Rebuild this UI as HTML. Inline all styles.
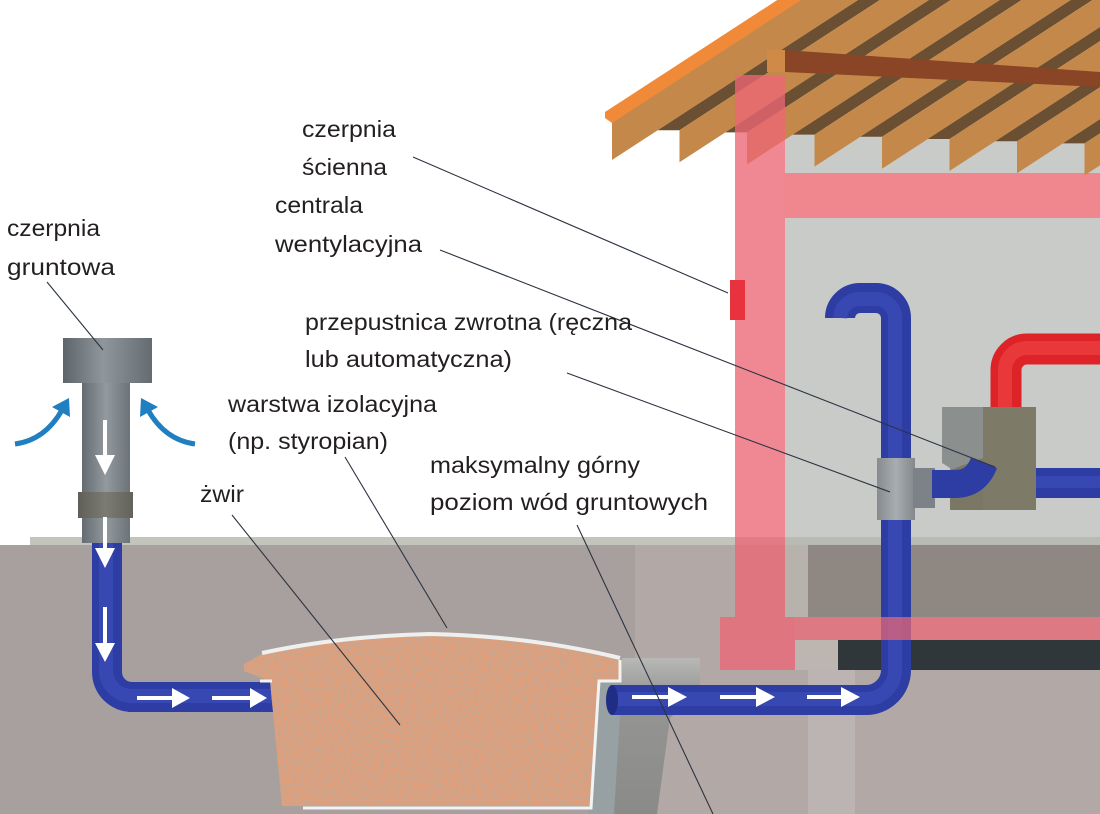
<!DOCTYPE html>
<html><head><meta charset="utf-8">
<style>html,body{margin:0;padding:0;background:#fff;}svg{display:block}</style>
</head><body>
<svg width="1100" height="814" viewBox="0 0 1100 814" xmlns="http://www.w3.org/2000/svg">
<defs>
 <linearGradient id="capg" x1="0" x2="1" y1="0" y2="0">
  <stop offset="0" stop-color="#5d656b"/><stop offset="0.45" stop-color="#8f979c"/><stop offset="1" stop-color="#646c72"/>
 </linearGradient>
 <linearGradient id="stemg" x1="0" x2="1" y1="0" y2="0">
  <stop offset="0" stop-color="#646c72"/><stop offset="0.5" stop-color="#939a9f"/><stop offset="1" stop-color="#6b7378"/>
 </linearGradient>
 <linearGradient id="bandg" x1="0" x2="1" y1="0" y2="0">
  <stop offset="0" stop-color="#5f5e58"/><stop offset="0.5" stop-color="#7c7b73"/><stop offset="1" stop-color="#63625b"/>
 </linearGradient>
 <linearGradient id="teeg" x1="0" x2="1" y1="0" y2="0">
  <stop offset="0" stop-color="#868b8f"/><stop offset="0.5" stop-color="#a9adb0"/><stop offset="1" stop-color="#83888c"/>
 </linearGradient>
 <linearGradient id="blockg" x1="0" x2="0" y1="0" y2="1">
  <stop offset="0" stop-color="#b8b9b6"/><stop offset="0.25" stop-color="#959693"/><stop offset="1" stop-color="#8a8b89"/>
 </linearGradient>
 <filter id="gr" x="0" y="0" width="1" height="1">
  <feTurbulence type="fractalNoise" baseFrequency="0.32" numOctaves="2" seed="4" result="t"/>
  <feColorMatrix in="t" type="matrix" values="0 0 0 0 0.76  0 0 0 0 0.34  0 0 0 0 0.19  0 0 0 -6 3.6" result="c"/>
  <feComposite in="c" in2="SourceGraphic" operator="in"/>
 </filter>
</defs>

<rect width="1100" height="814" fill="#fff"/>

<!-- soil -->
<rect x="0" y="545" width="1100" height="269" fill="#a8a09e"/>
<rect x="635" y="545" width="465" height="269" fill="#b2a9a7"/>
<rect x="808" y="670" width="47" height="144" fill="#bbb4b2"/>
<rect x="30" y="537" width="1070" height="8" fill="#c3c5bd"/>

<!-- interior -->
<rect x="785" y="128" width="315" height="409" fill="#c9cbc9"/>
<rect x="785" y="537" width="315" height="8" fill="#b9bab3"/>
<rect x="785" y="545" width="315" height="72" fill="#8e8782"/>
<rect x="785" y="545" width="23" height="72" fill="#b8b2ad"/>
<rect x="795" y="640" width="43" height="30" fill="#bcb5b0"/>
<rect x="838" y="640" width="262" height="30" fill="#2f373a"/>

<!-- top pink beam -->
<rect x="785" y="173" width="315" height="45" fill="#f0878f"/>

<!-- roof: dark bands -->
<g fill="#6a4f33">
 <polygon points="657.5,130.2 1379.5,-338.9 1379.5,-324.8 679.5,130.2"/>
 <polygon points="725,132.4 1447,-336.7 1447,-322.6 747,132.4"/>
 <polygon points="792.5,134.6 1514.5,-334.5 1514.5,-320.4 814.5,134.6"/>
 <polygon points="860,136.8 1582,-332.3 1582,-318.2 882,136.8"/>
 <polygon points="927.5,139 1649.5,-330.1 1649.5,-316 949.5,139"/>
 <polygon points="995,141.2 1717,-327.9 1717,-313.8 1017,141.2"/>
 <polygon points="1062.5,143.4 1784.5,-325.7 1784.5,-311.6 1084.5,143.4"/>
</g>
<!-- roof: rafters -->
<g fill="#c4894a">
 <polygon points="612,122 612,160 1312,-295 1312,-333"/>
 <polygon points="679.5,130.2 679.5,162.2 1379.5,-292.8 1379.5,-324.8"/>
 <polygon points="747,132.4 747,164.4 1447,-290.6 1447,-322.6"/>
 <polygon points="814.5,134.6 814.5,166.6 1514.5,-288.4 1514.5,-320.4"/>
 <polygon points="882,136.8 882,168.8 1582,-286.2 1582,-318.2"/>
 <polygon points="949.5,139 949.5,171 1649.5,-284 1649.5,-316"/>
 <polygon points="1017,141.2 1017,173.2 1717,-281.8 1717,-313.8"/>
 <polygon points="1084.5,143.4 1084.5,175.4 1784.5,-279.6 1784.5,-311.6"/>
</g>
<!-- fascia -->
<polygon points="605,112 605,118 612,123 1312,-332 1305,-343" fill="#f08a38"/>
<!-- ridge beam -->
<polygon points="785,50 1100,72 1100,87 785,72" fill="#8a4526"/>
<rect x="767" y="50" width="18" height="22" fill="#cf8a47"/>

<!-- pink column & foundation (translucent) -->
<g fill="#ec6775" opacity="0.78">
 <rect x="735" y="75" width="50" height="542"/>
 <rect x="720" y="617" width="75" height="53"/>
</g>
<rect x="730" y="280" width="15" height="40" fill="#e8323e"/>

<!-- right blue pipe -->
<path d="M612,700 H866 A30,30 0 0 0 896,670 V318 A20,20 0 0 0 876,298 H860 A20,20 0 0 0 840,318" fill="none" stroke="#2d3da3" stroke-width="30"/>
<path d="M612,699 H866 A29,29 0 0 0 895,670 V318 A19,19 0 0 0 876,299 H860 A20,20 0 0 0 840,318" fill="none" stroke="#3748b3" stroke-width="14"/>
<ellipse cx="612" cy="700" rx="6" ry="15" fill="#1f2d85"/>
<rect x="795" y="617" width="305" height="23" fill="#ec6775" opacity="0.72"/>

<!-- red pipe -->
<path d="M1006,410 V370 A21,21 0 0 1 1027,349 H1100" fill="none" stroke="#dd2328" stroke-width="31"/>
<path d="M1005,410 V370 A22,22 0 0 1 1027,348 H1100" fill="none" stroke="#e8383a" stroke-width="14"/>
<!-- blue behind box -->
<rect x="1030" y="468" width="70" height="30" fill="#2d3da3"/>
<rect x="1030" y="476" width="70" height="12" fill="#3748b3"/>
<!-- box -->
<polygon points="942,407 983,407 983,510 950,510 950,468 942,463" fill="#8b908f"/>
<polygon points="950,470 983,458 983,510 950,510" fill="#7a7864"/>
<rect x="983" y="407" width="53" height="103" fill="#7d7b67"/>
<!-- tee + branch -->
<rect x="877" y="458" width="38" height="62" fill="url(#teeg)"/>
<rect x="913" y="468" width="22" height="40" fill="#7c8287"/>
<path d="M932,484 H955 Q976,484 984,463" fill="none" stroke="#2d3da3" stroke-width="28"/>

<!-- left inlet -->
<path d="M107,543 V672 A25,25 0 0 0 132,697 H274" fill="none" stroke="#2d3da3" stroke-width="30"/>
<path d="M106,543 V672 A26,26 0 0 0 132,696 H274" fill="none" stroke="#3748b3" stroke-width="14"/>
<rect x="82" y="383" width="48" height="160" fill="url(#stemg)"/>
<rect x="78" y="492" width="55" height="26" fill="url(#bandg)"/>
<rect x="63" y="338" width="89" height="45" fill="url(#capg)"/>

<!-- white arrows -->
<g fill="#fff">
 <rect x="103" y="420" width="4" height="38"/><polygon points="95,455 115,455 105,475"/>
 <rect x="103" y="517" width="4" height="34"/><polygon points="95,548 115,548 105,568"/>
 <rect x="103" y="607" width="4" height="38"/><polygon points="95,643 115,643 105,662"/>
 <rect x="137" y="696" width="37" height="4"/><polygon points="172,688 172,708 190,698"/>
 <rect x="212" y="696" width="40" height="4"/><polygon points="250,688 250,708 267,698"/>
 <rect x="720" y="695" width="38" height="4"/><polygon points="756,687 756,707 775,697"/>
 <rect x="807" y="695" width="36" height="4"/><polygon points="841,687 841,707 860,697"/>
</g>

<!-- blue curved arrows -->
<path d="M15,444 Q45,440 62,410" fill="none" stroke="#1f7fc1" stroke-width="5"/>
<polygon points="69,398 70,417 52,407" fill="#1f7fc1"/>
<path d="M195,444 Q165,440 148,410" fill="none" stroke="#1f7fc1" stroke-width="5"/>
<polygon points="141,398 140,417 158,407" fill="#1f7fc1"/>

<!-- gray block -->
<polygon points="622,658 700,658 700,690 670,718 657,814 588,814 598,682 622,682" fill="url(#blockg)"/>
<polygon points="598,682 622,682 614,814 588,814" fill="#97a0a3"/>
<!-- re-draw pipe over block -->
<path d="M612,700 H700" fill="none" stroke="#2d3da3" stroke-width="30"/>
<path d="M612,699 H700" fill="none" stroke="#3748b3" stroke-width="14"/>
<ellipse cx="612" cy="700" rx="6" ry="15" fill="#1f2d85"/>
<g fill="#fff">
 <rect x="632" y="695" width="38" height="4"/><polygon points="668,687 668,707 687,697"/>
</g>

<!-- gravel -->
<path d="M244,664 L262,654 Q340,638 430,636 Q530,638 620,660 L620,680 L598,680 L590,806 L282,806 L270,681 L262,678 L244,671 Z" fill="#c9a58e"/>
<path d="M244,664 L262,654 Q340,638 430,636 Q530,638 620,660 L620,680 L598,680 L590,806 L282,806 L270,681 L262,678 L244,671 Z" fill="#000" filter="url(#gr)"/>
<path d="M262,653 Q340,636 430,634 Q530,636 620,658" fill="none" stroke="#eef0f0" stroke-width="4"/>
<path d="M620,660 V681 H599 L591,808 H303" fill="none" stroke="#f2f4f4" stroke-width="3"/>
<path d="M260,681 H272" stroke="#f2f4f4" stroke-width="3"/>

<!-- leader lines -->
<g stroke="#2b3340" stroke-width="1.1" fill="none">
 <line x1="47" y1="282" x2="103" y2="350"/>
 <line x1="413" y1="157" x2="728" y2="293"/>
 <line x1="440" y1="250" x2="995" y2="467"/>
 <line x1="567" y1="373" x2="890" y2="492"/>
 <line x1="345" y1="457" x2="447" y2="628"/>
 <line x1="232" y1="515" x2="400" y2="725"/>
 <line x1="577" y1="525" x2="713" y2="814"/>
</g>

<!-- labels -->
<g font-family="'Liberation Sans', 'DejaVu Sans', sans-serif" font-size="23" fill="#231f20">
 <text x="7" y="236" textLength="93" lengthAdjust="spacingAndGlyphs">czerpnia</text>
 <text x="7" y="275" textLength="108" lengthAdjust="spacingAndGlyphs">gruntowa</text>
 <text x="302" y="137" textLength="94" lengthAdjust="spacingAndGlyphs">czerpnia</text>
 <text x="302" y="175" textLength="85" lengthAdjust="spacingAndGlyphs">ścienna</text>
 <text x="275" y="213" textLength="88" lengthAdjust="spacingAndGlyphs">centrala</text>
 <text x="275" y="252" textLength="147" lengthAdjust="spacingAndGlyphs">wentylacyjna</text>
 <text x="305" y="330" textLength="327" lengthAdjust="spacingAndGlyphs">przepustnica zwrotna (ręczna</text>
 <text x="305" y="367" textLength="207" lengthAdjust="spacingAndGlyphs">lub automatyczna)</text>
 <text x="228" y="412" textLength="209" lengthAdjust="spacingAndGlyphs">warstwa izolacyjna</text>
 <text x="228" y="449" textLength="160" lengthAdjust="spacingAndGlyphs">(np. styropian)</text>
 <text x="200" y="502" textLength="44" lengthAdjust="spacingAndGlyphs">żwir</text>
 <text x="430" y="473" textLength="210" lengthAdjust="spacingAndGlyphs">maksymalny górny</text>
 <text x="430" y="510" textLength="278" lengthAdjust="spacingAndGlyphs">poziom wód gruntowych</text>
</g>
</svg>
</body></html>
